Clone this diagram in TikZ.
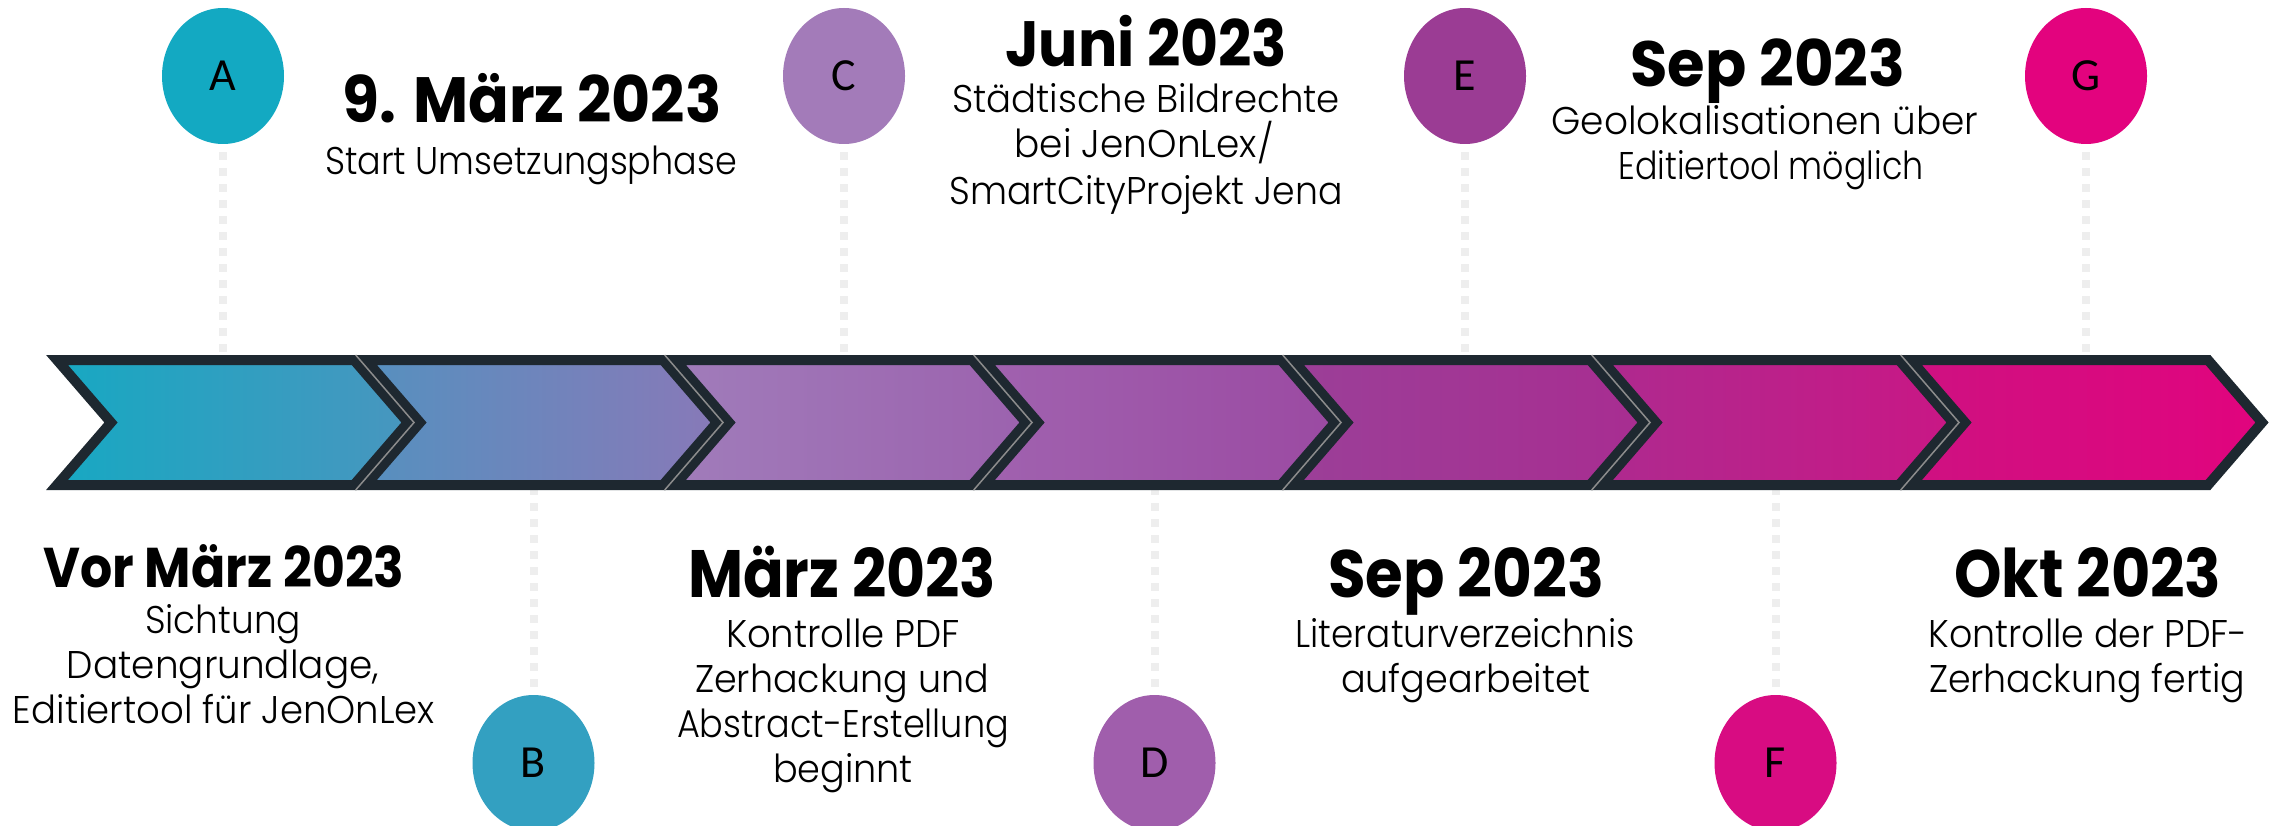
\documentclass[tikz,border=0pt]{standalone}
\usepackage{fontspec}
\setmainfont{Poppins}[UprightFont=* Light, BoldFont=* Bold]
\newfontfamily\letterfont{Carlito}
\usetikzlibrary{shapes.geometric}
\newcommand\fitw[2]{\resizebox{#1pt}{\height}{#2}}
\definecolor{chevdark}{HTML}{1E2830}
\definecolor{sepgray}{HTML}{8C8C8C}
\definecolor{dotgray}{HTML}{EEEEEE}
\definecolor{cla}{HTML}{17A8C2}\definecolor{cra}{HTML}{4896BF}
\definecolor{clb}{HTML}{5690BF}\definecolor{crb}{HTML}{8879B8}
\definecolor{clc}{HTML}{A07CBA}\definecolor{crc}{HTML}{9C62AE}
\definecolor{cld}{HTML}{A062AF}\definecolor{crd}{HTML}{9B4AA2}
\definecolor{cle}{HTML}{9B3F98}\definecolor{cre}{HTML}{A82D91}
\definecolor{clf}{HTML}{AE2A8F}\definecolor{crf}{HTML}{C91785}
\definecolor{clg}{HTML}{CE1181}\definecolor{crg}{HTML}{E1047E}
\definecolor{colA}{HTML}{13A9C2}
\definecolor{colB}{HTML}{33A0C1}
\definecolor{colC}{HTML}{A37BB9}
\definecolor{colD}{HTML}{A05EAC}
\definecolor{colE}{HTML}{9B3C94}
\definecolor{colF}{HTML}{D80C82}
\definecolor{colG}{HTML}{E3037E}
\tikzset{
  chev/.style={draw=chevdark, line width=10pt, line join=miter},
  sepline/.style={draw=sepgray, line width=1.5pt},
  dots/.style={draw=dotgray, line width=8pt, dash pattern=on 8pt off 8pt},
  badge/.style={ellipse, minimum width=122pt, minimum height=136pt, inner sep=0pt, text=black, font=\letterfont\fontsize{46}{46}\selectfont},
  head/.style={anchor=base, inner sep=0pt, font=\bfseries\fontsize{64}{64}\selectfont},
  headl/.style={anchor=base, inner sep=0pt, font=\bfseries\fontsize{67}{67}\selectfont},
  heads/.style={anchor=base, inner sep=0pt, font=\bfseries\fontsize{56}{56}\selectfont},
  body/.style={anchor=base, inner sep=0pt, font=\fontsize{38.6}{40}\selectfont},
}
\begin{document}
\begin{tikzpicture}[x=1pt,y=-1pt]
\fill[white] (0,0) rectangle (2269,826);
\useasboundingbox (0,0) rectangle (2269,826);

% circles
\node[badge, fill=colA] (cA) at (223,76) {A};
\node[badge, fill=colB] (cB) at (533.5,763) {B};
\node[badge, fill=colC] (cC) at (844,76) {C};
\node[badge, fill=colD] (cD) at (1154.5,763) {D};
\node[badge, fill=colE] (cE) at (1465,76) {E};
\node[badge, fill=colF] (cF) at (1775.5,763) {F};
\node[badge, fill=colG] (cG) at (2086,76) {G};

% band anchor points
\coordinate (bA) at (223,358);
\coordinate (bB) at (533.5,487);
\coordinate (bC) at (844,358);
\coordinate (bD) at (1154.5,487);
\coordinate (bE) at (1465,358);
\coordinate (bF) at (1775.5,487);
\coordinate (bG) at (2086,358);

% dotted connectors
\draw[dots] ([yshift=-8pt]cA.south) -- (bA);
\draw[dots] ([yshift=-8pt]cC.south) -- (bC);
\draw[dots] ([yshift=-8pt]cE.south) -- (bE);
\draw[dots] ([yshift=-8pt]cG.south) -- (bG);
\draw[dots] (bB) -- ([yshift=8pt]cB.north);
\draw[dots] (bD) -- ([yshift=8pt]cD.north);
\draw[dots] (bF) -- ([yshift=8pt]cF.north);

% chevrons
\foreach \k/\cl/\cr in {0/cla/cra,1/clb/crb,2/clc/crc,3/cld/crd,4/cle/cre,5/clf/crf,6/clg/crg}{
  \pgfmathsetmacro\L{57+309*\k}
  \path[chev, left color=\cl, right color=\cr]
    (\L,360) -- (\L+297,360) -- (\L+351,422.5) -- (\L+297,485) -- (\L,485) -- (\L+54,422.5) -- cycle;
}
\foreach \k in {1,...,6}{
  \pgfmathsetmacro\L{57+309*\k}
  \draw[sepline] (\L-10.3,355) -- (\L+48,422.5) -- (\L-10.3,490);
}

% top texts
\node[head] (h1) at (532,123) {\fitw{379}{9. März 2023}};
\node[body] (h1a) at (531,175) {\fitw{412}{Start Umsetzungsphase}};

\node[head] (h2) at (1146,67) {\fitw{282}{Juni 2023}};
\node[body] (h2a) at (1146,113) {\fitw{388}{Städtische Bildrechte}};
\node[body] (h2b) at (1144,158) {\fitw{259}{bei JenOnLex/}};
\node[body] (h2c) at (1146,205) {\fitw{393}{SmartCityProjekt Jena}};

\node[head] (h3) at (1768,87) {\fitw{275}{Sep 2023}};
\node[body] (h3a) at (1765,135) {\fitw{427}{Geolokalisationen über}};
\node[body] (h3b) at (1771,180) {\fitw{305}{Editiertool möglich}};

% bottom texts
\node[heads] (g1) at (224,587) {\fitw{361}{Vor März 2023}};
\node[body] (g1a) at (223,633) {\fitw{156}{Sichtung}};
\node[body] (g1b) at (223,678) {\fitw{312}{Datengrundlage,}};
\node[body] (g1c) at (224,723) {\fitw{422}{Editiertool für JenOnLex}};

\node[headl] (g2) at (842,597) {\fitw{308}{März 2023}};
\node[body] (g2a) at (843,647) {\fitw{234}{Kontrolle PDF}};
\node[body] (g2b) at (842,692) {\fitw{294}{Zerhackung und}};
\node[body] (g2c) at (843,737) {\fitw{332}{Abstract-Erstellung}};
\node[body] (g2d) at (843,782) {\fitw{140}{beginnt}};

\node[headl] (g3) at (1466,597) {\fitw{276}{Sep 2023}};
\node[body] (g3a) at (1465,647) {\fitw{339}{Literaturverzeichnis}};
\node[body] (g3b) at (1466,692) {\fitw{250}{aufgearbeitet}};

\node[headl] (g4) at (2088,597) {\fitw{267}{Okt 2023}};
\node[body] (g4a) at (2088,647) {\fitw{319}{Kontrolle der PDF-}};
\node[body] (g4b) at (2087,692) {\fitw{316}{Zerhackung fertig}};
\end{tikzpicture}
\end{document}
